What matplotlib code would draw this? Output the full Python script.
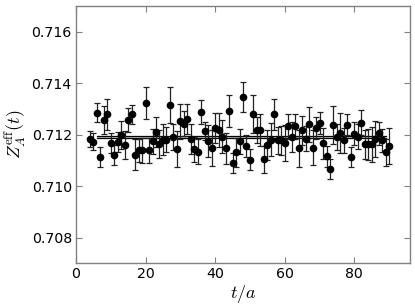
import matplotlib
matplotlib.use("Agg")
import matplotlib.pyplot as plt
import numpy as np

plt.rcParams['mathtext.fontset'] = 'cm'
plt.rcParams['font.family'] = ['DejaVu Sans']

t = list(range(4, 91))
z = [0.71184, 0.71173, 0.71285, 0.71113, 0.71258, 0.71279, 0.71167, 0.71120,
     0.71173, 0.71200, 0.71160, 0.71256, 0.71279, 0.71123, 0.71139, 0.71139,
     0.71323, 0.71139, 0.71174, 0.71212, 0.71165, 0.71181, 0.71181, 0.71314,
     0.71191, 0.71146, 0.71252, 0.71243, 0.71261, 0.71184, 0.71144, 0.71134,
     0.71288, 0.71214, 0.71175, 0.71150, 0.71227, 0.71219, 0.71193, 0.71147,
     0.71292, 0.71090, 0.71131, 0.71174, 0.71346, 0.71155, 0.71103, 0.71282,
     0.71217, 0.71219, 0.71104, 0.71160, 0.71181, 0.71280, 0.71178, 0.71178,
     0.71167, 0.71232, 0.71191, 0.71232, 0.71147, 0.71217, 0.71184, 0.71240,
     0.71150, 0.71227, 0.71245, 0.71167, 0.71116, 0.71068, 0.71239, 0.71191,
     0.71206, 0.71178, 0.71239, 0.71113, 0.71204, 0.71193, 0.71247, 0.71162,
     0.71162, 0.71162, 0.71184, 0.71206, 0.71178, 0.71132, 0.71155]
err = [0.00031, 0.00034, 0.00037, 0.00039, 0.00054, 0.00060, 0.00040, 0.00039,
       0.00039, 0.00054, 0.00055, 0.00047, 0.00036, 0.00060, 0.00045, 0.00049,
       0.00063, 0.00050, 0.00049, 0.00058, 0.00055, 0.00061, 0.00050, 0.00070,
       0.00052, 0.00070, 0.00068, 0.00049, 0.00060, 0.00058, 0.00049, 0.00049,
       0.00047, 0.00036, 0.00061, 0.00070, 0.00058, 0.00066, 0.00065, 0.00061,
       0.00063, 0.00039, 0.00055, 0.00049, 0.00058, 0.00043, 0.00042, 0.00074,
       0.00050, 0.00063, 0.00052, 0.00058, 0.00065, 0.00060, 0.00052, 0.00055,
       0.00070, 0.00049, 0.00058, 0.00049, 0.00073, 0.00056, 0.00049, 0.00068,
       0.00068, 0.00042, 0.00042, 0.00060, 0.00042, 0.00039, 0.00074, 0.00049,
       0.00078, 0.00049, 0.00041, 0.00039, 0.00045, 0.00047, 0.00049, 0.00055,
       0.00060, 0.00068, 0.00070, 0.00045, 0.00045, 0.00052, 0.00070]

fit_range = [6, 89]
fit_value = 0.71191
fit_error = 0.00005

fig = plt.figure(figsize=(4.15, 3.06), dpi=100)
ax = fig.add_axes([0.183, 0.1395, 0.805, 0.8405])

lo = fit_value - fit_error
hi = fit_value + fit_error
ax.fill_between(fit_range, [lo, lo], [hi, hi], color='#c8c8c8', lw=0, zorder=1)
ax.plot(fit_range, [lo, lo], color='black', lw=0.9, zorder=2)
ax.plot(fit_range, [hi, hi], color='black', lw=0.9, zorder=2)

ax.errorbar(t, z, yerr=err, fmt='o', color='black', ms=4.5, elinewidth=0.9,
            capsize=2, capthick=0.9, ecolor='#222222', zorder=3)

ax.set_xlim(0, 96)
ax.set_ylim(0.707, 0.717)
ax.set_xticks([0, 20, 40, 60, 80])
ax.set_yticks([0.708, 0.710, 0.712, 0.714, 0.716])
ax.set_yticklabels(['0.708', '0.710', '0.712', '0.714', '0.716'])

for s in ax.spines.values():
    s.set_color('#808080')
    s.set_linewidth(1.0)
ax.tick_params(direction='in', top=True, right=True, length=4, width=0.8,
               color='#808080', labelsize=10.2, pad=3)

ax.set_xlabel(r'$t/a$', fontsize=13, labelpad=1)
ax.set_ylabel(r'$Z_A^{\rm eff}(t)$', fontsize=13, labelpad=2)

fig.savefig('out.png', dpi=100)
